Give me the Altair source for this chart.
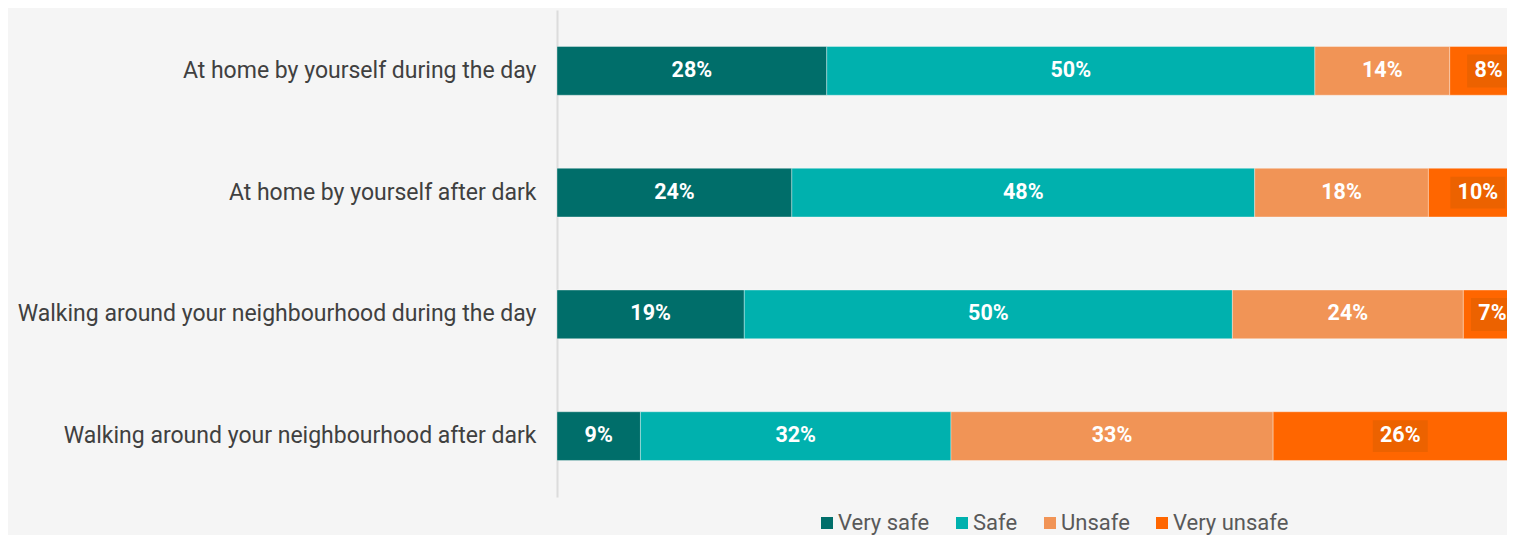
import altair as alt
import pandas as pd

questions = [
    "At home by yourself during the day",
    "At home by yourself after dark",
    "Walking around your neighbourhood during the day",
    "Walking around your neighbourhood after dark",
]
categories = ["Very safe", "Safe", "Unsafe", "Very unsafe"]
very_safe = [27.8, 24.2, 19.3, 8.6]
safe = [50.3, 47.7, 50.3, 32.0]
unsafe = [13.9, 17.9, 23.8, 33.2]
very_unsafe = [8.0, 10.2, 6.6, 26.2]
colors = ["#006E6A", "#00B1AE", "#F19456", "#FF6600"]

series = [very_safe, safe, unsafe, very_unsafe]
rows = []
for ci, (cat, vals) in enumerate(zip(categories, series)):
    for qi, q in enumerate(questions):
        rows.append({"question": q, "category": cat, "order": ci, "value": vals[qi]})
df = pd.DataFrame(rows)

x_scale = alt.Scale(domain=[0, 97.9], nice=False, zero=True)
y_enc = alt.Y(
    "question:N",
    sort=questions,
    scale=alt.Scale(paddingInner=0.6, paddingOuter=0.3),
    axis=alt.Axis(
        title=None,
        ticks=False,
        labelFontSize=23,
        labelColor="#404040",
        labelPadding=21,
        labelLimit=0,
        domainColor="#DCDCDC",
        domainWidth=2,
        labelFont="Roboto",
    ),
)

base = (
    alt.Chart(df)
    .transform_stack(
        stack="value",
        as_=["x0", "x1"],
        groupby=["question"],
        sort=[alt.SortField("order", "ascending")],
    )
    .transform_calculate(
        mid="min((datum.x0 + datum.x1) / 2, 96.4)",
        label="format(datum.value, '.0f') + '%'",
    )
)

bars = base.mark_bar(clip=True, stroke="white", strokeOpacity=0.35, strokeWidth=1).encode(
    x=alt.X("x0:Q", scale=x_scale, axis=None),
    x2="x1:Q",
    y=y_enc,
    color=alt.Color(
        "category:N",
        scale=alt.Scale(domain=categories, range=colors),
        legend=alt.Legend(
            title=None,
            orient="none",
            direction="horizontal",
            legendX=259,
            legendY=502,
            symbolType="square",
            symbolSize=144,
            symbolStrokeWidth=0,
            labelFontSize=22,
            labelFont="Roboto",
            labelColor="#595959",
            labelOffset=0,
            columnPadding=21,
            padding=0,
        ),
    ),
    order=alt.Order("order:Q"),
)

boxes = (
    base.transform_filter("datum.category == 'Very unsafe'")
    .transform_calculate(
        box="length(datum.label) > 2 ? 'M-1,-0.58H1V0.58H-1Z' : 'M-0.78,-0.6H0.78V0.6H-0.78Z'"
    )
    .mark_point(filled=True, size=3025, color="#EC6200", opacity=1, strokeWidth=0, clip=True)
    .encode(
        x=alt.X("mid:Q", scale=x_scale, axis=None),
        y=alt.Y("question:N", sort=questions),
        shape=alt.Shape("box:N", scale=None),
    )
)

labels = base.mark_text(
    color="white", fontSize=21.5, fontWeight="bold", font="Roboto"
).encode(
    x=alt.X("mid:Q", scale=x_scale, axis=None),
    y=alt.Y("question:N", sort=questions),
    text="label:N",
)

chart = (
    alt.layer(bars, boxes, labels)
    .properties(
        width=950,
        height=487,
        autosize=alt.AutoSizeParams(type="none"),
        padding={"left": 549, "top": 2, "right": 0, "bottom": 38},
        background="#F5F5F5",
    )
    .configure(font="Roboto")
    .configure_view(stroke=None)
)

chart.save("out.html", embed_options={"renderer": "svg", "actions": False})
